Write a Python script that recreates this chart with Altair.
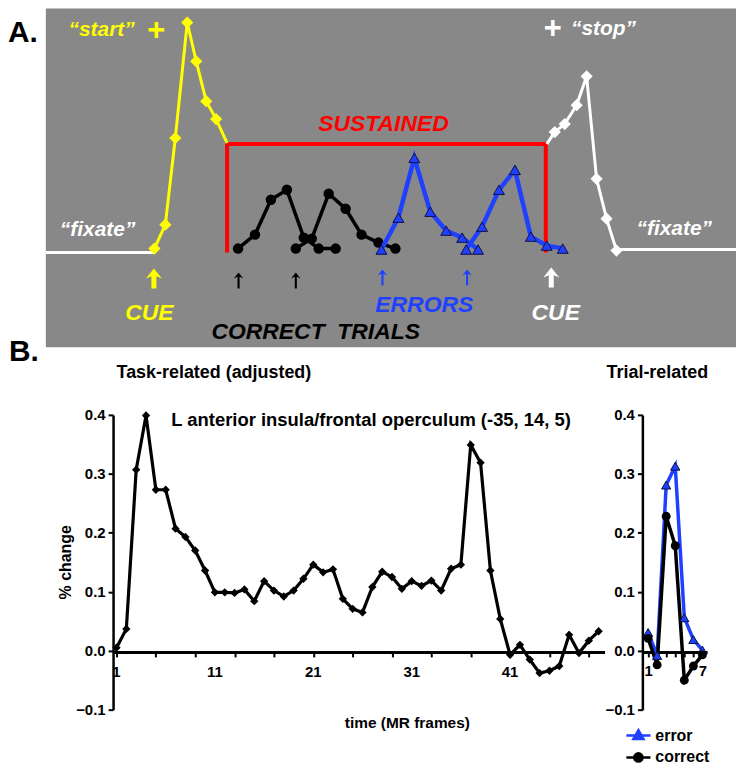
import altair as alt
import pandas as pd

# ---------------- Panel B data ----------------
task_frames = list(range(1, 51))
task_change = [0.005, 0.037, 0.307, 0.399, 0.273, 0.273, 0.207, 0.193, 0.170, 0.136,
               0.099, 0.099, 0.098, 0.104, 0.084, 0.118, 0.102, 0.092, 0.102, 0.122,
               0.146, 0.133, 0.138, 0.088, 0.071, 0.065, 0.108, 0.134, 0.125, 0.105,
               0.118, 0.110, 0.119, 0.102, 0.139, 0.146, 0.349, 0.319, 0.136, 0.054,
               -0.007, 0.010, -0.015, -0.038, -0.034, -0.026, 0.027, -0.004, 0.017, 0.033]
task_tick_labels = [1, 11, 21, 31, 41]
trial_frames = [1, 2, 3, 4, 5, 6, 7]
trial_error = [0.031, -0.008, 0.281, 0.313, 0.056, 0.019, 0.001]
trial_correct = [0.021, -0.024, 0.228, 0.178, -0.050, -0.026, -0.007]
trial_series = ["error", "correct"]

# ---------------- Panel A schematic (in the picture's own units) ----------------
panel_x = [46, 739]
panel_y = [7, 347]
fixate_left_x, fixate_left_y = [46, 155], [252, 252]
fixate_right_x, fixate_right_y = [619, 739], [249, 249]
start_x = [155, 166, 176, 188, 197, 207, 217, 228]
start_y = [248, 224, 137, 21, 60, 100, 118, 142]
stop_x = [549, 557, 567, 579, 589, 599, 609, 619]
stop_y = [143, 131, 123, 104, 75, 178, 218, 250]
sustained_x = [228, 228, 548, 548]
sustained_y = [252, 143, 143, 252]
correct1_x = [239, 256, 272, 288, 305, 320, 337]
correct1_y = [248, 234, 199, 189, 237, 248, 248]
correct2_x = [297, 313, 330, 347, 363, 380, 397]
correct2_y = [248, 238, 193, 208, 234, 242, 248]
error1_x = [383, 400, 416, 432, 448, 464, 480]
error1_y = [249, 217, 157, 211, 230, 237, 249]
error2_x = [468, 484, 501, 517, 533, 549, 565]
error2_y = [249, 226, 189, 169, 236, 245, 248]
arrow_x = [154.5, 239.5, 297, 384, 469, 553.5]
arrow_y = [278, 280, 280, 277, 277, 277]
arrow_kind = ["cue_start", "correct", "correct", "error", "error", "cue_stop"]

# ---------------- style ----------------
W, H = 731, 758
M = 8
GRAY = "#888888"
YELLOW = "#ffff00"
RED = "#ff0000"
BLUE = "#1f40ff"
FA = "Liberation Sans, Arial, sans-serif"
FB = "Liberation Sans, Arial, sans-serif"

FAT_ARROW = "M0,-1L0.8,0L0.25,-0.22L0.25,1L-0.25,1L-0.25,-0.22L-0.8,0Z"
THIN_ARROW = "M0,-1L0.6,-0.25L0.13,-0.45L0.13,1L-0.13,1L-0.13,-0.45L-0.6,-0.25Z"
TRI_LINE = "M-1.8,0H1.8M0,-0.8L0.75,0.5L-0.75,0.5Z"
CIRC_LINE = "M-1.8,0H1.8M0.62,0A0.62,0.62,0,1,1,-0.62,0A0.62,0.62,0,1,1,0.62,0Z"


def seq(xs, ys, name):
    return pd.DataFrame({"x": xs, "y": ys, "i": list(range(len(xs))), "seg": name})


SX = alt.Scale(domain=[M, M + W], range=[0, W], nice=False, zero=False)
SY = alt.Scale(domain=[M, M + H], range=[0, H], nice=False, zero=False)


def sline(df, color, width):
    return alt.Chart(df).mark_line(color=color, strokeWidth=width).encode(
        x=alt.X("x:Q", scale=SX, axis=None), y=alt.Y("y:Q", scale=SY, axis=None),
        detail="seg:N", order="i:Q")


def spoints(df, shape, fill, size, stroke=None, sw=0):
    kw = dict(shape=shape, filled=True, fill=fill, size=size, opacity=1)
    if stroke:
        kw.update(stroke=stroke, strokeWidth=sw)
    return alt.Chart(df).mark_point(**kw).encode(
        x=alt.X("x:Q", scale=SX, axis=None), y=alt.Y("y:Q", scale=SY, axis=None))


rect_df = pd.DataFrame({"x": [panel_x[0]], "x2": [panel_x[1]], "y": [panel_y[0]], "y2": [panel_y[1]]})
rect = alt.Chart(rect_df).mark_rect(color=GRAY).encode(
    x=alt.X("x:Q", scale=SX, axis=None), x2="x2:Q",
    y=alt.Y("y:Q", scale=SY, axis=None), y2="y2:Q")

fix_df = pd.concat([seq(fixate_left_x, fixate_left_y, "l"), seq(fixate_right_x, fixate_right_y, "r")])
start_df = seq(start_x, start_y, "start")
stop_df = seq(stop_x, stop_y, "stop")
sus_df = seq(sustained_x, sustained_y, "sus")
cor_df = pd.concat([seq(correct1_x, correct1_y, "c1"), seq(correct2_x, correct2_y, "c2")])
err_df = pd.concat([seq(error1_x, error1_y, "e1"), seq(error2_x, error2_y, "e2")])
arr_df = pd.DataFrame({"x": arrow_x, "y": arrow_y, "kind": arrow_kind})


def arrows(kind, path, color, size):
    return alt.Chart(arr_df).transform_filter(alt.datum.kind == kind).mark_point(
        shape=path, filled=True, fill=color, size=size, opacity=1).encode(
        x=alt.X("x:Q", scale=SX, axis=None), y=alt.Y("y:Q", scale=SY, axis=None))


schematic = alt.layer(
    rect,
    sline(fix_df, "white", 3),
    sline(sus_df, RED, 4),
    sline(cor_df, "black", 3.5),
    spoints(cor_df, "circle", "black", 110),
    sline(err_df, BLUE, 4.5),
    spoints(err_df, "triangle-up", BLUE, 120, "#101040", 1),
    sline(start_df, YELLOW, 3),
    spoints(start_df.iloc[:7], "diamond", YELLOW, 150),
    sline(stop_df, "white", 3),
    spoints(stop_df.iloc[1:], "diamond", "white", 150),
    arrows("cue_start", FAT_ARROW, YELLOW, 400),
    arrows("correct", THIN_ARROW, "black", 256),
    arrows("error", THIN_ARROW, BLUE, 256),
    arrows("cue_stop", FAT_ARROW, "white", 400),
)

# ---------------- Panel B charts ----------------
task_df = pd.DataFrame({"frame": task_frames, "change": task_change})
task_lab_df = pd.DataFrame({"frame": task_tick_labels, "lab": [str(v) for v in task_tick_labels]})
trial_df = pd.DataFrame({
    "frame": trial_frames * 2,
    "value": trial_error + trial_correct,
    "series": ["error"] * 7 + ["correct"] * 7,
})

LX = alt.Scale(domain=[0.65, 50.6], range=[113.5 - M, 607 - M], nice=False, zero=False)
LY = alt.Scale(domain=[-0.1, 0.4], range=[711 - M, 415 - M], nice=False, zero=False)
RX = alt.Scale(domain=[0.37, 7.52], range=[645 - M, 710 - M], nice=False, zero=False)
RY = alt.Scale(domain=[-0.1, 0.4], range=[711 - M, 415 - M], nice=False, zero=False)

TICK_FS = 15
ax_common = dict(grid=False, title=None, domainColor="black", tickColor="black",
                 labelColor="black", labelFont=FB, labelFontSize=TICK_FS, labelFontWeight="bold")
yvals = [-0.1, 0.0, 0.1, 0.2, 0.3, 0.4]
zero_y = 653 - M

left_yaxis = alt.Axis(orient="left", offset=-(113.5 - M), values=yvals, format=".1f",
                      domainWidth=2.5, tickWidth=2, tickSize=5, labelPadding=3, **ax_common)
left_xaxis = alt.Axis(orient="bottom", offset=zero_y - H, values=task_frames, labels=False,
                      domainWidth=3, tickWidth=2, tickSize=5, **ax_common)
right_yaxis = alt.Axis(orient="left", offset=-(645 - M), values=yvals, format=".1f",
                       domainWidth=2.5, tickWidth=2, tickSize=5, labelPadding=3, **ax_common)
right_xaxis = alt.Axis(orient="bottom", offset=zero_y - H, values=trial_frames, format="d",
                       labelExpr="datum.value == 1 || datum.value == 7 ? datum.label : ''",
                       domainWidth=3, tickWidth=2, tickSize=5, labelPadding=7,
                       labelOverlap=False, labelFlush=False, **ax_common)

left = alt.layer(
    alt.Chart(task_df).mark_line(color="black", strokeWidth=3.2).encode(
        x=alt.X("frame:Q", scale=LX, axis=left_xaxis),
        y=alt.Y("change:Q", scale=LY, axis=left_yaxis)),
    alt.Chart(task_df).mark_point(shape="diamond", filled=True, color="black", size=70, opacity=1).encode(
        x="frame:Q", y="change:Q"),
    alt.Chart(task_lab_df).mark_text(font=FB, fontSize=TICK_FS, fontWeight="bold", color="black",
                                     baseline="middle", dy=21).encode(
        x="frame:Q", y=alt.datum(0), text="lab:N"),
)

leg = alt.Legend(title=None, orient="none", legendX=625, legendY=721, padding=0,
                 labelFont=FB, labelFontSize=16, labelFontWeight="bold", labelColor="black",
                 symbolSize=180, symbolStrokeWidth=2.5, labelOffset=9, rowPadding=3)

err_only = alt.datum.series == "error"
cor_only = alt.datum.series == "correct"
right = alt.layer(
    alt.Chart(trial_df).transform_filter(err_only).mark_line(color=BLUE, strokeWidth=3.5).encode(
        x=alt.X("frame:Q", scale=RX, axis=right_xaxis),
        y=alt.Y("value:Q", scale=RY, axis=right_yaxis)),
    alt.Chart(trial_df).transform_filter(cor_only).mark_line(color="black", strokeWidth=3.5).encode(
        x="frame:Q", y="value:Q"),
    alt.Chart(trial_df).transform_filter(err_only).mark_point(
        shape="triangle-up", filled=True, fill=BLUE, stroke="#101040", strokeWidth=1, size=85, opacity=1).encode(
        x="frame:Q", y="value:Q"),
    alt.Chart(trial_df).transform_filter(cor_only).mark_point(
        shape="circle", filled=True, color="black", size=80, opacity=1).encode(
        x="frame:Q", y="value:Q"),
    alt.Chart(trial_df).transform_filter("false").mark_point(filled=True, size=180, opacity=1, strokeWidth=2.5).encode(
        x="frame:Q", y="value:Q",
        fill=alt.Fill("series:N", scale=alt.Scale(domain=trial_series, range=[BLUE, "black"]), legend=leg),
        stroke=alt.Stroke("series:N", scale=alt.Scale(domain=trial_series, range=[BLUE, "black"]), legend=leg),
        shape=alt.Shape("series:N", scale=alt.Scale(domain=trial_series, range=[TRI_LINE, CIRC_LINE]), legend=leg),
    ),
)


# ---------------- text ----------------
def label(text, x, y, color="black", size=22, font=FA, italic=False, align="center", angle=0):
    return alt.Chart(pd.DataFrame({"t": [text]})).mark_text(
        font=font, fontSize=size, fontWeight="bold", fontStyle="italic" if italic else "normal",
        color=color, align=align, baseline="middle", angle=angle).encode(
        text="t:N", x=alt.value(x - M), y=alt.value(y - M))


texts = [
    label("A.", 8, 32, size=30, align="left"),
    label("B.", 9, 352, size=30, align="left"),
    label("\u201cstart\u201d", 102, 29, YELLOW, 21, italic=True),
    label("+", 157, 30, YELLOW, 31),
    label("+", 555, 28, "white", 31),
    label("\u201cstop\u201d", 606, 28, "white", 21, italic=True),
    label("\u201cfixate\u201d", 98, 229, "white", 21, italic=True),
    label("\u201cfixate\u201d", 677, 228, "white", 21, italic=True),
    label("SUSTAINED", 385, 123, RED, 23, italic=True),
    label("CUE", 150, 313, YELLOW, 23, italic=True),
    label("CORRECT\u00a0 TRIALS", 317, 332, "black", 23, italic=True),
    label("ERRORS", 426, 305, BLUE, 23, italic=True),
    label("CUE", 558, 313, "white", 23, italic=True),
    label("Task-related (adjusted)", 117, 373, size=18, font=FB, align="left"),
    label("Trial-related", 660, 373, size=18, font=FB),
    label("L anterior insula/frontal operculum (-35, 14, 5)", 172, 420, size=18.5, font=FB, align="left"),
    label("% change", 66, 563, size=16, font=FB, angle=270),
    label("time (MR frames)", 409, 724, size=15.5, font=FB),
]

chart = alt.layer(schematic, left, right, *texts).resolve_scale(
    x="independent", y="independent", fill="independent", stroke="independent", shape="independent"
).resolve_axis(x="independent", y="independent").properties(
    width=W, height=H, padding=0, autosize=alt.AutoSizeParams(type="none")
).configure_view(stroke=None)

chart.save("out.html", embed_options={"renderer": "svg", "actions": False})
